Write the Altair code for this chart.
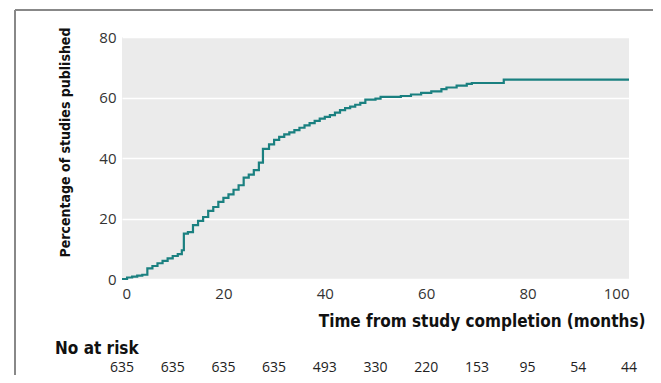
import altair as alt
import pandas as pd

# Cumulative percentage of studies published (step function)
months = [0, 1, 2, 3, 4, 5, 6, 7, 8, 9, 10, 11, 11.8, 12.2, 13, 14, 15, 16, 17, 18,
          19, 20, 21, 22, 23, 24, 25, 26, 27, 27.8, 29, 30, 31, 32, 33, 34, 35, 36,
          37, 38, 39, 40, 41, 42, 43, 44, 45, 46, 47, 48, 50, 51, 55, 57, 59, 61,
          63, 64, 66, 68, 69, 75.3, 100]
pct = [0, 0.5, 0.8, 1.1, 1.4, 3.5, 4.3, 5.2, 6.0, 6.8, 7.6, 8.2, 9.5, 15.0, 15.5,
       17.8, 19.2, 20.5, 22.5, 23.8, 25.5, 26.8, 28.0, 29.5, 31.0, 33.5, 34.5, 36.0,
       38.5, 43.0, 44.5, 46.0, 47.0, 47.8, 48.5, 49.2, 50.0, 50.8, 51.5, 52.3, 53.0,
       53.6, 54.2, 55.0, 55.8, 56.5, 57.0, 57.6, 58.2, 59.3, 59.6, 60.2, 60.5, 61.0,
       61.5, 62.0, 62.8, 63.3, 63.9, 64.5, 64.8, 65.9, 65.9]

risk_months = [0, 10, 20, 30, 40, 50, 60, 70, 80, 90, 100]
at_risk = [635, 635, 635, 635, 493, 330, 220, 153, 95, 54, 44]

x_ticks = [0, 20, 40, 60, 80, 100]
y_ticks = [0, 20, 40, 60, 80]

curve = pd.DataFrame({"t": months, "p": pct})
risk = pd.DataFrame({"t": risk_months, "n": [str(v) for v in at_risk]})

W, H = 507, 242
BOLD = "Liberation Sans Narrow, DejaVu Sans Condensed, Roboto Condensed, sans-serif"
REG = "Open Sans, Noto Sans, sans-serif"

xs = alt.Scale(domain=[0, 100], nice=False)
ys = alt.Scale(domain=[0, 80], nice=False)

line = alt.Chart(curve).mark_line(
    interpolate="step-after", color="#1a8080", strokeWidth=2.2, clip=False
).encode(
    x=alt.X("t:Q", scale=xs,
            axis=alt.Axis(values=x_ticks, title="Time from study completion (months)",
                          grid=False, domain=False, ticks=True, tickColor="white",
                          tickSize=3, tickWidth=1.5, labelPadding=4,
                          labelFont=REG, labelFontSize=15, labelColor="#333",
                          titleFont=BOLD, titleFontSize=17, titleFontWeight="bold",
                          titleColor="#111", titleAnchor="end", titleAlign="right",
                          titleX=W + 16, titleY=42, titleBaseline="middle")),
    y=alt.Y("p:Q", scale=ys,
            axis=alt.Axis(values=y_ticks, title="Percentage of studies published",
                          grid=True, gridColor="white", gridWidth=1.5,
                          domain=False, ticks=False, labelPadding=6,
                          labelFont=REG, labelFontSize=15, labelColor="#333",
                          titleFont=BOLD, titleFontSize=14, titleFontWeight="bold",
                          titleColor="#111", titleAngle=-90, titleX=-57,
                          titleY=105, titleAlign="center", titleBaseline="middle")),
)

risk_nums = alt.Chart(risk).mark_text(
    font=REG, fontSize=14, color="#222", baseline="alphabetic"
).encode(
    x=alt.X("t:Q", scale=xs),
    y=alt.value(H + 93),
    text="n:N",
)

risk_label = alt.Chart(pd.DataFrame({"s": ["No at risk"]})).mark_text(
    font=BOLD, fontSize=17, fontWeight="bold", color="#111", align="left",
    baseline="middle"
).encode(x=alt.value(-67), y=alt.value(H + 70), text="s:N")

frame_top = alt.Chart(pd.DataFrame({"a": [0]})).mark_rule(
    color="#888", strokeWidth=2
).encode(x=alt.value(-107), x2=alt.value(W + 60), y=alt.value(-27))

frame_left = alt.Chart(pd.DataFrame({"a": [0]})).mark_rule(
    color="#888", strokeWidth=2
).encode(x=alt.value(-107), y=alt.value(-27), y2=alt.value(H + 130))

chart = alt.layer(frame_top, frame_left, line, risk_nums, risk_label).properties(
    width=W, height=H,
    autosize=alt.AutoSizeParams(type="none"),
    padding={"left": 114, "top": 29, "right": 24, "bottom": 96},
    background="white",
).configure_view(fill="#ebebeb", stroke=None)

chart.save("out.html", embed_options={"renderer": "svg", "actions": False})
